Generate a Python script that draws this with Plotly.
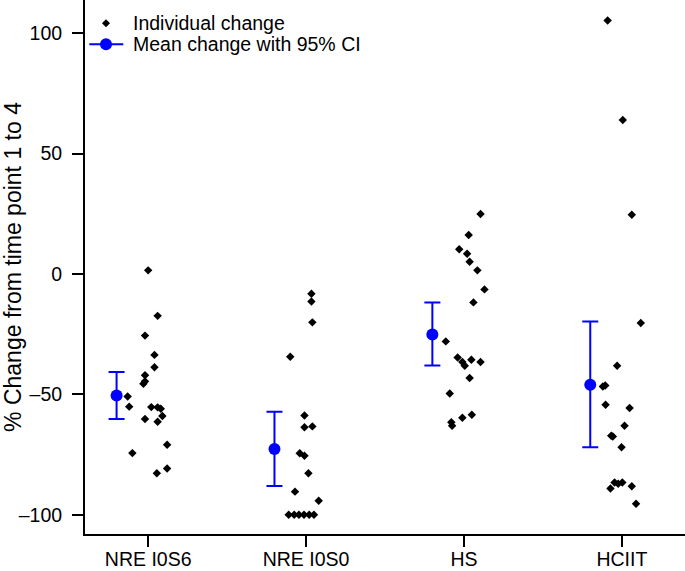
import plotly.graph_objects as go

categories = ["NRE I0S6", "NRE I0S0", "HS", "HCIIT"]

# individual % change values per group
vals_nre_i0s6 = [1.5, -17.4, -25.6, -33.6, -38.7, -42.1, -45.6, -44.6, -50.9, -55.1,
                 -55.3, -55.4, -56.0, -59.0, -60.2, -61.4, -74.4, -70.9, -80.8, -82.8]
vals_nre_i0s0 = [-8.2, -11.4, -20.1, -34.4, -58.8, -63.7, -63.3, -74.5, -75.5, -82.8,
                 -90.4, -94.2, -100, -100, -100, -100, -100, -100]
vals_hs = [24.9, 16.2, 10.3, 8.4, 5.1, 1.5, -6.4, -11.8, -28.0, -34.7,
           -36.6, -38.1, -35.6, -36.6, -43.2, -49.6, -58.5, -59.7, -61.6, -63.0]
vals_hciit = [105.3, 64.0, 24.6, -20.4, -38.1, -46.7, -46.3, -54.3, -55.7, -63.0,
              -67.2, -67.5, -72.0, -86.6, -87.1, -86.6, -89.1, -88.2, -95.4]

# horizontal jitter of individual points (category units)
jit_nre_i0s6 = [0.0, 0.06, -0.02, 0.04, 0.04, -0.02, -0.03, -0.02, -0.13, -0.12,
                0.02, 0.06, 0.08, 0.09, -0.02, 0.06, -0.10, 0.12, 0.12, 0.055]
jit_nre_i0s0 = [0.034, 0.034, 0.04, -0.10, -0.01, -0.01, 0.04, -0.04, -0.01, 0.015,
                -0.07, 0.08, -0.11, -0.075, -0.045, -0.013, 0.02, 0.05]
jit_hs = [0.105, 0.03, -0.03, 0.02, 0.036, 0.085, 0.13, 0.06, -0.115, -0.04,
          -0.01, 0.005, 0.047, 0.105, 0.036, -0.09, 0.05, -0.01, -0.08, -0.075]
jit_hciit = [-0.09, 0.006, 0.063, 0.12, -0.03, -0.12, -0.105, -0.103, 0.049, 0.017,
             -0.067, -0.057, -0.002, -0.046, -0.023, 0.003, -0.072, 0.063, 0.09]

# mean change and 95% CI
means = [-50.5, -72.7, -25.1, -46.0]
ci_upper = [-40.7, -57.2, -11.8, -19.7]
ci_lower = [-60.2, -88.1, -38.0, -72.0]
mean_offset = -0.2

y_ticks = [-100, -50, 0, 50, 100]
y_ticktext = ["\u2013100", "\u201350", "0", "50", "100"]
legend_labels = ["Individual change", "Mean change with 95% CI"]

groups = [vals_nre_i0s6, vals_nre_i0s0, vals_hs, vals_hciit]
jitters = [jit_nre_i0s6, jit_nre_i0s0, jit_hs, jit_hciit]

px, py = [], []
for i, (vals, jit) in enumerate(zip(groups, jitters)):
    for v, j in zip(vals, jit):
        px.append(i + 1 + j)
        py.append(v)

FONT = "Liberation Sans, Arial, Helvetica, sans-serif"
BLUE = "#0000ff"
FS = 19.5

W, H = 685, 571
ML, MR, MT, MB = 85, 0, 0, 37
PW, PH = W - ML - MR, H - MT - MB


def pxx(x):
    return (x - ML) / PW


def pxy(y):
    return 1 - (y - MT) / PH


fig = go.Figure()
fig.add_trace(go.Scatter(
    x=px, y=py, mode="markers", name=legend_labels[0], showlegend=False,
    marker=dict(symbol="diamond", size=6.5, color="black"),
))
mx = [i + 1 + mean_offset for i in range(len(means))]
fig.add_trace(go.Scatter(
    x=mx, y=means, mode="markers", name=legend_labels[1], showlegend=False,
    marker=dict(symbol="circle", size=12, color=BLUE),
    error_y=dict(type="data", symmetric=False,
                 array=[u - m for u, m in zip(ci_upper, means)],
                 arrayminus=[m - l for m, l in zip(means, ci_lower)],
                 color=BLUE, thickness=2, width=8),
))

# manual legend (symbols as shapes, labels as annotations)
lx, ly1, ly2 = 106, 23.3, 44.3
shapes = [
    dict(type="path", xref="paper", yref="paper",
         path=(f"M {pxx(lx - 4)} {pxy(ly1)} L {pxx(lx)} {pxy(ly1 - 4)} "
               f"L {pxx(lx + 4)} {pxy(ly1)} L {pxx(lx)} {pxy(ly1 + 4)} Z"),
         fillcolor="black", line=dict(width=0)),
    dict(type="line", xref="paper", yref="paper",
         x0=pxx(89.3), x1=pxx(123.3), y0=pxy(ly2), y1=pxy(ly2),
         line=dict(color=BLUE, width=2)),
    dict(type="circle", xref="paper", yref="paper",
         x0=pxx(lx - 6), x1=pxx(lx + 6), y0=pxy(ly2 - 6), y1=pxy(ly2 + 6),
         fillcolor=BLUE, line=dict(width=0)),
]
annotations = [
    dict(text=legend_labels[0], xref="paper", yref="paper", x=pxx(131), y=pxy(ly1),
         xanchor="left", yanchor="middle", showarrow=False, font=dict(size=FS)),
    dict(text=legend_labels[1], xref="paper", yref="paper", x=pxx(131), y=pxy(ly2),
         xanchor="left", yanchor="middle", showarrow=False, font=dict(size=FS)),
]

fig.update_layout(
    width=W, height=H,
    margin=dict(l=ML, r=MR, t=MT, b=MB),
    plot_bgcolor="white", paper_bgcolor="white",
    font=dict(family=FONT, size=FS, color="black"),
    showlegend=False,
    shapes=shapes, annotations=annotations,
)
fig.update_xaxes(
    range=[0.6, 4.4], tickvals=[1, 2, 3, 4], ticktext=categories,
    showline=True, linecolor="black", linewidth=2,
    ticks="outside", ticklen=11, tickwidth=2, tickcolor="black",
    showgrid=False, zeroline=False, automargin=False,
    ticklabelstandoff=-4,
)
fig.update_yaxes(
    range=[-108, 113.8], tickvals=y_ticks, ticktext=y_ticktext,
    showline=True, linecolor="black", linewidth=2,
    ticks="outside", ticklen=11, tickwidth=2, tickcolor="black",
    showgrid=False, zeroline=False, automargin=False,
    ticklabelstandoff=6,
    title=dict(text="% Change from time point 1 to 4", standoff=0),
)

fig.write_html("out.html", config={"displayModeBar": False},
               post_script="document.body.style.margin='0';")
